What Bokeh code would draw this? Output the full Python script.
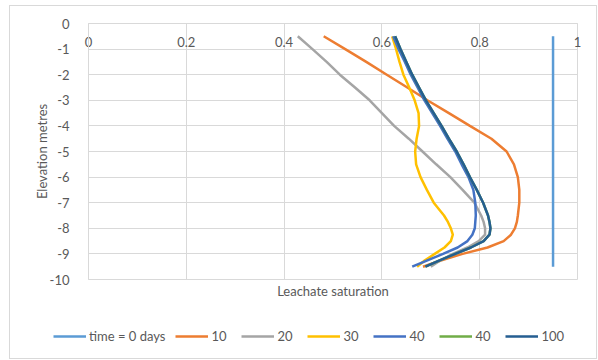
from bokeh.plotting import figure
from bokeh.layouts import column
from bokeh.models import (LinearAxis, FixedTicker, Legend, LegendItem, Range1d)
from bokeh.embed import file_html
from bokeh.resources import INLINE

# ---- data ----
elevation = [-0.5, -1.0, -1.5, -2.0, -2.5, -3.0, -3.5, -4.0, -4.5, -5.0,
             -5.5, -6.0, -6.5, -7.0, -7.5, -7.75, -8.0, -8.25, -8.5, -8.75,
             -9.0, -9.25, -9.5]
t0 = [0.95] * 23
t10 = [0.481, 0.525, 0.568, 0.610, 0.652, 0.693, 0.737, 0.780, 0.824, 0.855,
       0.870, 0.878, 0.881, 0.881, 0.878, 0.876, 0.872, 0.864, 0.849, 0.816,
       0.765, 0.722, 0.684]
t20 = [0.428, 0.458, 0.487, 0.514, 0.545, 0.575, 0.600, 0.625, 0.655, 0.683,
       0.711, 0.740, 0.765, 0.789, 0.803, 0.808, 0.811, 0.811, 0.798, 0.775,
       0.745, 0.720, 0.700]
t30 = [0.621, 0.629, 0.636, 0.644, 0.656, 0.667, 0.675, 0.676, 0.671, 0.668,
       0.670, 0.679, 0.692, 0.706, 0.727, 0.735, 0.741, 0.745, 0.741, 0.728,
       0.708, 0.688, 0.672]
t40 = [0.623, 0.634, 0.647, 0.659, 0.673, 0.687, 0.703, 0.719, 0.734, 0.750,
       0.763, 0.777, 0.787, 0.791, 0.792, 0.791, 0.790, 0.785, 0.775, 0.755,
       0.725, 0.693, 0.662]
t40b = [0.627, 0.638, 0.650, 0.662, 0.676, 0.690, 0.706, 0.722, 0.737, 0.753,
        0.767, 0.780, 0.794, 0.807, 0.817, 0.820, 0.822, 0.820, 0.808, 0.782,
        0.750, 0.718, 0.689]
t100 = [0.627, 0.638, 0.650, 0.662, 0.676, 0.690, 0.706, 0.722, 0.737, 0.753,
        0.767, 0.780, 0.794, 0.807, 0.817, 0.820, 0.822, 0.820, 0.808, 0.782,
        0.750, 0.718, 0.689]

series_names = ["time = 0 days", "10", "20", "30", "40", "40", "100"]
series_values = [t0, t10, t20, t30, t40, t40b, t100]
series_colors = ["#5B9BD5", "#ED7D31", "#A5A5A5", "#FFC000", "#4472C4", "#70AD47", "#255E91"]

x_ticks = [0, 0.2, 0.4, 0.6, 0.8, 1.0]
x_tick_labels = ["0", "0.2", "0.4", "0.6", "0.8", "1"]
y_ticks = [0, -1, -2, -3, -4, -5, -6, -7, -8, -9, -10]
y_tick_labels = ["0", "-1", "-2", "-3", "-4", "-5", "-6", "-7", "-8", "-9", "-10"]

FONT = "Lato"
TXT = "#595959"
GRID = "#D9D9D9"

p = figure(width=586, height=300, output_backend="svg", toolbar_location=None,
           x_range=Range1d(0, 1), y_range=Range1d(-10, 0),
           x_axis_location="below",
           min_border_left=78, min_border_right=19, min_border_top=17, min_border_bottom=27)
p.frame_align = False
p.background_fill_color = "white"
p.border_fill_color = "white"
p.outline_line_color = GRID

# bottom axis: title only
p.xaxis.ticker = FixedTicker(ticks=[])
p.xaxis.axis_label = "Leachate saturation"
p.xaxis.axis_label_text_font = FONT
p.xaxis.axis_label_text_font_size = "13px"
p.xaxis.axis_label_text_font_style = "normal"
p.xaxis.axis_label_text_color = TXT
p.xaxis.axis_label_standoff = 3
p.xaxis.axis_line_color = None
p.xaxis.major_tick_line_color = None
p.xaxis.minor_tick_line_color = None

# top axis at y = 0 with labels drawn just below it
top = LinearAxis(ticker=FixedTicker(ticks=x_ticks))
top.major_label_overrides = dict(zip(x_ticks, x_tick_labels))
top.major_label_text_font = FONT
top.major_label_text_font_size = "13px"
top.major_label_text_color = TXT
top.major_label_standoff = -29
top.axis_line_color = GRID
top.major_tick_line_color = None
top.minor_tick_line_color = None
p.add_layout(top, "above")

# y axis
p.yaxis.ticker = FixedTicker(ticks=y_ticks)
p.yaxis.major_label_overrides = dict(zip(y_ticks, y_tick_labels))
p.yaxis.major_label_text_font = FONT
p.yaxis.major_label_text_font_size = "13px"
p.yaxis.major_label_text_color = TXT
p.yaxis.major_label_standoff = 13
p.yaxis.axis_line_color = GRID
p.yaxis.major_tick_line_color = None
p.yaxis.minor_tick_line_color = None
p.yaxis.axis_label = "Elevation metres"
p.yaxis.axis_label_text_font = FONT
p.yaxis.axis_label_text_font_size = "13px"
p.yaxis.axis_label_text_font_style = "normal"
p.yaxis.axis_label_text_color = TXT
p.yaxis.axis_label_standoff = -3

p.xgrid.ticker = FixedTicker(ticks=x_ticks)
p.ygrid.ticker = FixedTicker(ticks=y_ticks)
p.xgrid.grid_line_color = GRID
p.ygrid.grid_line_color = GRID

for vals, col in zip(series_values, series_colors):
    p.line(vals, elevation, line_color=col, line_width=2.5)

# legend strip (its lines lie outside its own visible range; only the legend shows)
lg = figure(width=586, height=52, output_backend="svg", toolbar_location=None,
            x_range=Range1d(0, 1), y_range=Range1d(100, 101),
            x_axis_location=None, y_axis_location=None,
            min_border=0, min_border_left=0, min_border_right=0,
            min_border_top=0, min_border_bottom=0)
lg.frame_align = False
lg.grid.visible = False
lg.outline_line_color = None
lg.background_fill_color = "white"
lg.border_fill_color = "white"
items = []
for name, vals, col in zip(series_names, series_values, series_colors):
    r = lg.line(vals, elevation, line_color=col, line_width=2.5)
    items.append(LegendItem(label=name, renderers=[r]))
legend = Legend(items=items, orientation="horizontal", location=(43, 14),
                glyph_width=33, glyph_height=14, label_standoff=3, spacing=10,
                padding=0, margin=0, border_line_color=None, background_fill_alpha=0,
                label_text_font=FONT, label_text_font_size="13px", label_text_color=TXT)
lg.add_layout(legend, "center")

layout = column(p, lg, spacing=0,
                styles={"border": "1px solid #D9D9D9", "margin-left": "9px", "margin-top": "5px"})

open("out.html", "w").write(file_html(layout, INLINE))
